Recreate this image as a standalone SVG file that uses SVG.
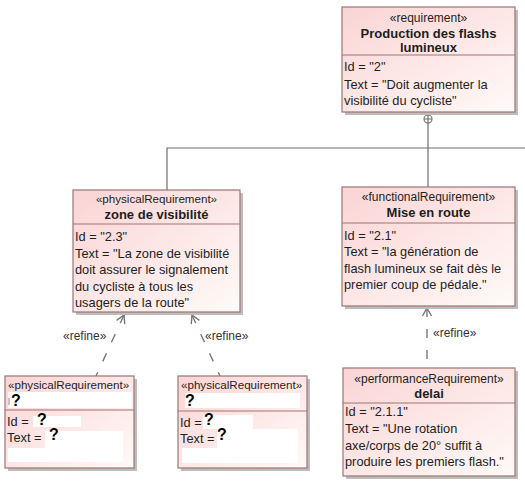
<svg xmlns="http://www.w3.org/2000/svg" width="525" height="499" viewBox="0 0 525 499">
  <style>
    text { font-family: "Liberation Sans", Arial, sans-serif; font-size: 12.8px; fill: #1e1e1e; }
    .st { text-anchor: middle; font-size: 12px; }
    .stl { font-size: 11.6px; }
    .nm { text-anchor: middle; font-weight: bold; font-size: 13px; }
    .q { font-weight: bold; font-size: 16px; fill: #000; }
    .box { fill: url(#reqFill); stroke: #9e7474; stroke-width: 1.2; }
    .shadow { fill: #bdbdbd; }
    .div { stroke: #9e7474; stroke-width: 1.2; }
    .blank { fill: #ffffff; }
    .wire { fill: none; stroke: #6e6e6e; stroke-width: 1.2; }
    .refine { fill: none; stroke: #777; stroke-width: 1.4; stroke-dasharray: 9 12; }
    .lbl { fill: #333; font-size: 12px; }
  </style>
  <defs>
    <linearGradient id="reqFill" x1="0" y1="0" x2="1" y2="1">
      <stop offset="0" stop-color="#fad4d4"/>
      <stop offset="1" stop-color="#fffaf8"/>
    </linearGradient>
    <marker id="open" viewBox="0 0 12 12" refX="1" refY="6" markerWidth="12" markerHeight="12" markerUnits="userSpaceOnUse" orient="auto">
      <path d="M9,1.5 L1,6 L9,10.5" fill="none" stroke="#777" stroke-width="1.4" stroke-dasharray="none"/>
    </marker>
  </defs>

  <!-- containment tree and refine dependencies -->
  <g id="connectors">
    <circle cx="428" cy="119" r="4" fill="#fff" stroke="#6e6e6e" stroke-width="1.1"/>
    <path class="wire" d="M424,119 H432 M428,115 V123"/>
    <path class="wire" d="M428,123 V187"/>
    <path class="wire" d="M167,190 V148 H525"/>
    <path class="refine" d="M124,315 L96,376" marker-start="url(#open)"/>
    <path class="refine" d="M192,315 L220,376" marker-start="url(#open)"/>
    <path class="refine" d="M427,308 L427,368" marker-start="url(#open)"/>
    <text class="lbl" x="63" y="340">«refine»</text>
    <text class="lbl" x="205" y="340">«refine»</text>
    <text class="lbl" x="433" y="337">«refine»</text>
  </g>

  <g id="req-2">
    <rect class="shadow" x="345" y="10" width="173" height="105"/>
    <rect class="box" x="342" y="7" width="173" height="105"/>
    <line class="div" x1="342" y1="55" x2="515" y2="55"/>
    <text class="st" x="428.5" y="22">«requirement»</text>
    <text class="nm" x="428.5" y="38">Production des flashs</text>
    <text class="nm" x="428.5" y="52">lumineux</text>
    <text x="344" y="71">Id = "2"</text>
    <text x="344" y="89">Text = "Doit augmenter la</text>
    <text x="344" y="105">visibilité du cycliste"</text>
  </g>

  <g id="req-2-3">
    <rect class="shadow" x="76" y="193" width="167" height="122"/>
    <rect class="box" x="73" y="190" width="167" height="122"/>
    <line class="div" x1="73" y1="224" x2="240" y2="224"/>
    <text class="st stl" x="156.5" y="203">«physicalRequirement»</text>
    <text class="nm" x="156.5" y="219">zone de visibilité</text>
    <text x="75" y="241">Id = "2.3"</text>
    <text x="75" y="258">Text = "La zone de visibilité</text>
    <text x="75" y="274">doit assurer le signalement</text>
    <text x="75" y="291">du cycliste à tous les</text>
    <text x="75" y="307">usagers de la route"</text>
  </g>

  <g id="req-2-1">
    <rect class="shadow" x="345" y="190" width="173" height="119"/>
    <rect class="box" x="342" y="187" width="173" height="119"/>
    <line class="div" x1="342" y1="223" x2="515" y2="223"/>
    <text class="st" x="428.5" y="201">«functionalRequirement»</text>
    <text class="nm" x="428.5" y="217">Mise en route</text>
    <text x="344" y="240">Id = "2.1"</text>
    <text x="344" y="256">Text = "la génération de</text>
    <text x="344" y="273">flash lumineux se fait dès le</text>
    <text x="344" y="289">premier coup de pédale."</text>
  </g>

  <g id="req-2-1-1">
    <rect class="shadow" x="346" y="371" width="172" height="108"/>
    <rect class="box" x="343" y="368" width="172" height="108"/>
    <line class="div" x1="343" y1="403" x2="515" y2="403"/>
    <text class="st" x="429" y="383">«performanceRequirement»</text>
    <text class="nm" x="429" y="398">delai</text>
    <text x="345" y="416">Id = "2.1.1"</text>
    <text x="345" y="433">Text = "Une rotation</text>
    <text x="345" y="450">axe/corps de 20° suffit à</text>
    <text x="345" y="466">produire les premiers flash."</text>
  </g>

  <g id="req-phys-a">
    <rect class="shadow" x="8" y="379" width="129" height="92"/>
    <rect class="box" x="5" y="376" width="129" height="92"/>
    <line class="div" x1="5" y1="410" x2="134" y2="410"/>
    <text class="stl" x="8" y="389">«physicalRequirement»</text>
    <rect class="blank" x="8" y="392" width="124" height="16"/>
    <line x1="9" y1="398" x2="9" y2="405" stroke="#888" stroke-width="1"/>
    <text class="q" x="11" y="406">?</text>
    <text x="7" y="426">Id =</text>
    <rect class="blank" x="33" y="416" width="48" height="11"/>
    <text class="q" x="37" y="425">?</text>
    <text x="7" y="442">Text =</text>
    <rect class="blank" x="45" y="431" width="78" height="17"/>
    <text class="q" x="49" y="440">?</text>
    <rect class="blank" x="8" y="448" width="115" height="14"/>
  </g>

  <g id="req-phys-b">
    <rect class="shadow" x="181" y="379" width="129" height="92"/>
    <rect class="box" x="178" y="376" width="129" height="92"/>
    <line class="div" x1="178" y1="411" x2="307" y2="411"/>
    <text class="stl" x="181" y="389">«physicalRequirement»</text>
    <rect class="blank" x="185" y="393" width="115" height="15"/>
    <text class="q" x="185" y="406">?</text>
    <text x="180" y="427">Id =</text>
    <rect class="blank" x="203" y="415" width="50" height="14"/>
    <text class="q" x="204" y="425">?</text>
    <text x="180" y="443">Text =</text>
    <rect class="blank" x="217" y="429" width="81" height="21"/>
    <text class="q" x="217" y="440">?</text>
    <rect class="blank" x="182" y="448" width="116" height="15"/>
  </g>
</svg>
